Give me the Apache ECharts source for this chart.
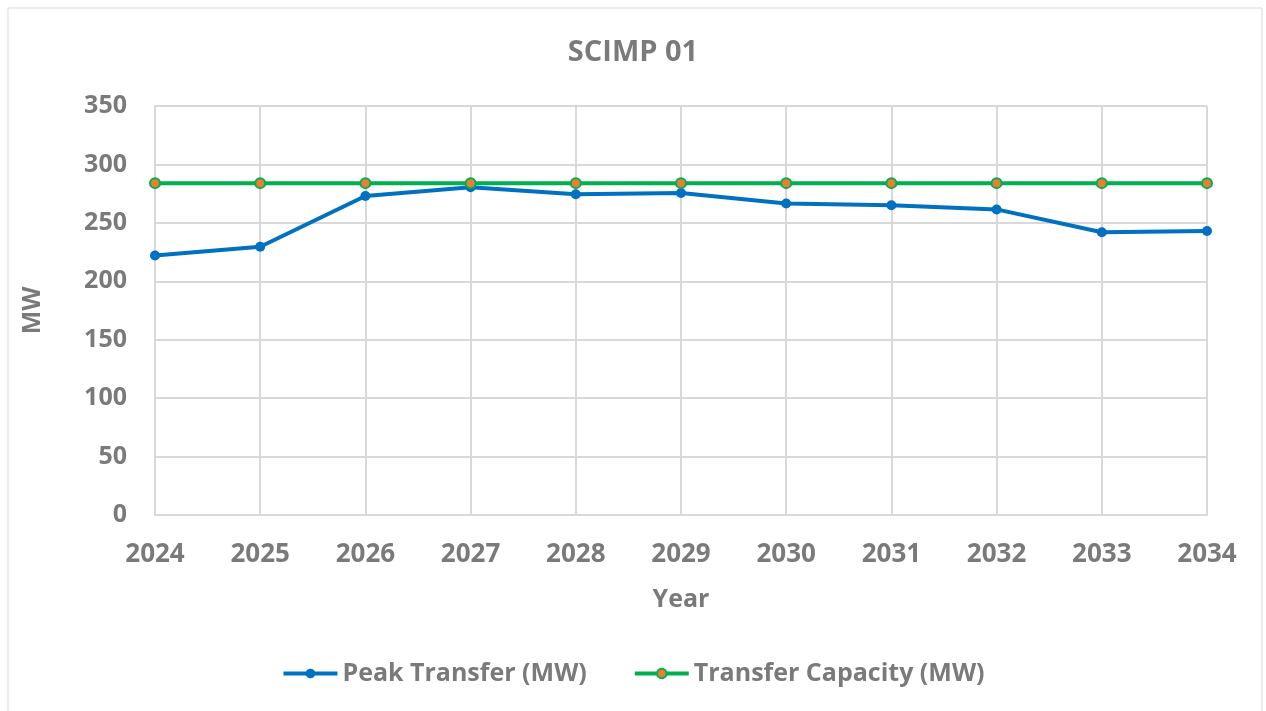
<!DOCTYPE html>
<html>
<head>
<meta charset="utf-8">
<script src="https://cdn.jsdelivr.net/npm/echarts@6/dist/echarts.min.js"></script>
<style>
  html, body { margin: 0; padding: 0; background: #fff; }
  #main { width: 1266px; height: 711px; }
</style>
</head>
<body>
<div id="main"></div>
<script>
const years = ['2024', '2025', '2026', '2027', '2028', '2029', '2030', '2031', '2032', '2033', '2034'];
const peakTransfer = [222, 229.5, 273, 280.5, 274.5, 275.5, 266.5, 265, 261.5, 242, 243];
const transferCapacity = [284, 284, 284, 284, 284, 284, 284, 284, 284, 284, 284];

const textGray = '#7a7a7a';
const gridGray = '#d9d9d9';
const font = '"Open Sans", sans-serif';

const chart = echarts.init(document.getElementById('main'));

chart.setOption({
  animation: false,
  title: {
    text: 'SCIMP 01',
    left: 'center',
    top: 33,
    textStyle: { fontFamily: font, fontSize: 29, fontWeight: 'bold', color: textGray }
  },
  graphic: [{
    type: 'rect',
    shape: { x: 8, y: 8, width: 1254, height: 720 },
    style: { fill: 'none', stroke: gridGray, lineWidth: 1 },
    silent: true
  }],
  grid: { left: 155, right: 59, top: 106, bottom: 196 },
  legend: {
    bottom: 20,
    left: 'center',
    itemWidth: 54,
    itemHeight: 12,
    itemGap: 46,
    lineStyle: { width: 4 },
    textStyle: { fontFamily: font, fontSize: 25, fontWeight: 'bold', color: textGray },
    data: ['Peak Transfer (MW)', 'Transfer Capacity (MW)']
  },
  xAxis: {
    type: 'category',
    data: years,
    boundaryGap: false,
    name: 'Year',
    nameLocation: 'middle',
    nameGap: 72,
    nameTextStyle: { fontFamily: font, fontSize: 25, fontWeight: 'bold', color: textGray },
    axisLine: { lineStyle: { color: gridGray, width: 2 } },
    axisTick: { show: false },
    axisLabel: { margin: 27, fontFamily: font, fontSize: 26, fontWeight: 'bold', color: textGray },
    splitLine: { show: true, lineStyle: { color: gridGray, width: 2 } }
  },
  yAxis: {
    type: 'value',
    min: 0,
    max: 350,
    interval: 50,
    name: 'MW',
    nameLocation: 'middle',
    nameGap: 110,
    nameTextStyle: { fontFamily: font, fontSize: 25, fontWeight: 'bold', color: textGray },
    axisLine: { show: true, lineStyle: { color: gridGray, width: 2 } },
    axisTick: { show: false },
    axisLabel: { margin: 28, fontFamily: font, fontSize: 25, fontWeight: 'bold', color: textGray },
    splitLine: { lineStyle: { color: gridGray, width: 2 } }
  },
  series: [
    {
      name: 'Peak Transfer (MW)',
      type: 'line',
      data: peakTransfer,
      symbol: 'circle',
      symbolSize: 10,
      lineStyle: { color: '#0070c0', width: 4 },
      itemStyle: { color: '#0070c0' },
      z: 3
    },
    {
      name: 'Transfer Capacity (MW)',
      type: 'line',
      data: transferCapacity,
      symbol: 'circle',
      symbolSize: 10,
      lineStyle: { color: '#00b050', width: 4 },
      itemStyle: { color: '#ed7d31', borderColor: '#00b050', borderWidth: 2 },
      z: 4
    }
  ]
});
</script>
</body>
</html>
